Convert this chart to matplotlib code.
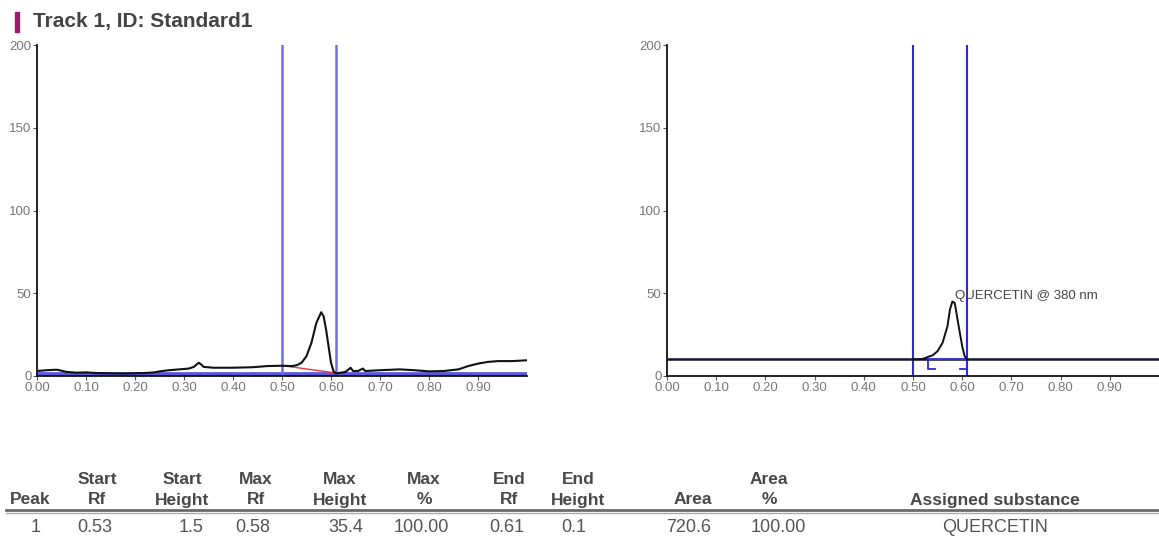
import matplotlib
matplotlib.use("Agg")
import matplotlib.pyplot as plt
from matplotlib.lines import Line2D
from matplotlib.patches import Rectangle

plt.rcParams["font.family"] = ["Liberation Sans", "DejaVu Sans"]

# ---- densitogram of the whole track (raw signal) ----
track_rf = [0.00, 0.02, 0.04, 0.05, 0.06, 0.08, 0.10, 0.12, 0.15, 0.18, 0.20,
            0.22, 0.24, 0.25, 0.27, 0.29, 0.31, 0.32, 0.33, 0.335, 0.34, 0.36,
            0.40, 0.44, 0.47, 0.50, 0.52, 0.53, 0.54, 0.55, 0.56, 0.57, 0.58,
            0.585, 0.59, 0.595, 0.60, 0.605, 0.61, 0.62, 0.63, 0.64, 0.645,
            0.655, 0.665, 0.67, 0.70, 0.74, 0.77, 0.80, 0.83, 0.86, 0.88, 0.90,
            0.92, 0.94, 0.97, 1.00]
track_au = [3.0, 3.5, 3.8, 3.2, 2.5, 2.0, 2.2, 1.8, 1.6, 1.5, 1.7,
            1.8, 2.2, 2.8, 3.5, 4.0, 4.5, 5.5, 8.0, 7.0, 5.5, 5.0,
            5.0, 5.3, 6.0, 6.2, 6.0, 6.5, 8.0, 12.0, 20.0, 32.0, 38.5,
            36.0, 28.0, 18.0, 8.0, 3.0, 1.5, 2.0, 2.5, 5.0, 3.0,
            3.0, 4.5, 3.0, 3.5, 4.0, 3.5, 2.8, 3.0, 4.0, 6.0, 7.5,
            8.5, 9.0, 9.0, 9.5]

# baseline drawn under the peak
peak_base_rf = [0.50, 0.61]
peak_base_au = [6.3, 1.8]

# ---- integrated peak with its assignment ----
peak_rf = [0.50, 0.52, 0.53, 0.54, 0.55, 0.56, 0.57, 0.575, 0.58, 0.585,
           0.59, 0.60, 0.605, 0.61]
peak_au = [10.0, 10.3, 11.5, 12.5, 15.0, 20.0, 30.0, 40.0, 45.0, 44.0,
           35.0, 18.0, 12.0, 10.0]
peak_level = 10.0
peak_start_rf = 0.53
peak_end_rf = 0.61
peak_label = "QUERCETIN @ 380 nm"

window_rf = [0.50, 0.61]

x_ticks = [0.0, 0.1, 0.2, 0.3, 0.4, 0.5, 0.6, 0.7, 0.8, 0.9]
x_tick_labels = ["0.00", "0.10", "0.20", "0.30", "0.40", "0.50", "0.60",
                 "0.70", "0.80", "0.90"]
y_ticks = [0, 50, 100, 150, 200]

title = "Track 1, ID: Standard1"

# ---- peak table ----
head_top = ["", "Start", "Start", "Max", "Max", "Max", "End", "End", "",
            "Area", ""]
head_bottom = ["Peak", "Rf", "Height", "Rf", "Height", "%", "Rf", "Height",
               "Area", "%", "Assigned substance"]
row_values = ["1", "0.53", "1.5", "0.58", "35.4", "100.00", "0.61", "0.1",
              "720.6", "100.00", "QUERCETIN"]

# layout (pixels)
W, H = 1159, 537
head_x = [30, 97, 182, 256, 340, 424, 509, 578, 693, 769, 995]
value_x = [41, 112, 204, 270, 363, 449, 524, 586, 711, 806, 995]
value_align = ["right"] * 10 + ["center"]

fig = plt.figure(figsize=(W / 100, H / 100), dpi=100)


def rect(x0, y_top, x1, y_bot):
    return [x0 / W, 1 - y_bot / H, (x1 - x0) / W, (y_bot - y_top) / H]


def fx(px):
    return px / W


def fy(py):
    return 1 - py / H


tick_grey = "#777777"


def style(ax):
    ax.set_xlim(0, 1.0)
    ax.set_ylim(0, 200)
    for s in ("top", "right"):
        ax.spines[s].set_visible(False)
    for s in ("left", "bottom"):
        ax.spines[s].set_color("#111111")
        ax.spines[s].set_linewidth(1.3)
    ax.set_xticks(x_ticks)
    ax.set_xticklabels(x_tick_labels)
    ax.set_yticks(y_ticks)
    ax.tick_params(axis="both", length=3, width=0.8, color="#555555",
                   labelcolor=tick_grey, labelsize=9.5, pad=1)
    ax.patch.set_alpha(0)


ax1 = fig.add_axes(rect(37, 45, 527, 376))
ax2 = fig.add_axes(rect(667, 45, 1159, 376))
style(ax1)
style(ax2)

# left panel
ax1.axhline(1.3, color="#5656de", lw=3.4, zorder=1)
for r in window_rf:
    ax1.axvline(r, color="#6f6fe6", lw=1.8, zorder=2)
ax1.plot(peak_base_rf, peak_base_au, color="#e23a3a", lw=1.0, zorder=3)
ax1.plot(track_rf, track_au, color="#111111", lw=1.5, zorder=4)

# right panel
for r in window_rf:
    ax2.axvline(r, color="#2a2ad6", lw=1.5, zorder=2)
ax2.axhline(peak_level, color="#14142e", lw=1.8, zorder=3)
ax2.plot([peak_start_rf, peak_end_rf], [peak_level, peak_level],
         color="#3a3ae8", lw=1.2, zorder=4)
ax2.plot([peak_start_rf, peak_start_rf, peak_start_rf + 0.014],
         [peak_level, 4.5, 4.5], color="#2a2ad6", lw=1.3, zorder=4)
ax2.plot([peak_end_rf - 0.014, peak_end_rf, peak_end_rf],
         [4.5, 4.5, peak_level], color="#2a2ad6", lw=1.3, zorder=4)
ax2.plot(peak_rf, peak_au, color="#111111", lw=1.4, zorder=5)
ax2.text(0.585, 48.5, peak_label, fontsize=9.5, color="#444444",
         ha="left", va="center", zorder=6)

# title with marker bar
fig.patches.append(Rectangle((fx(15), fy(32)), 4 / W, 20 / H,
                             transform=fig.transFigure, color="#a0176e"))
fig.text(fx(33), fy(21), title, fontsize=15, fontweight="bold",
         color="#444444", ha="left", va="center")

# table
for x, t in zip(head_x, head_top):
    fig.text(fx(x), fy(480), t, fontsize=12.5, fontweight="bold",
             color="#484848", ha="center", va="center")
for x, t in zip(head_x, head_bottom):
    fig.text(fx(x), fy(500), t, fontsize=12.5, fontweight="bold",
             color="#484848", ha="center", va="center")
for x, t, a in zip(value_x, row_values, value_align):
    fig.text(fx(x), fy(527), t, fontsize=13, color="#555555",
             ha=a, va="center")

fig.lines.append(Line2D([fx(6), 1], [fy(510), fy(510)],
                        transform=fig.transFigure, color="#6a6a6a", lw=2.0))
fig.lines.append(Line2D([fx(6), 1], [fy(513), fy(513)],
                        transform=fig.transFigure, color="#aaaaaa", lw=1.0))

fig.savefig("out.png", dpi=100)
